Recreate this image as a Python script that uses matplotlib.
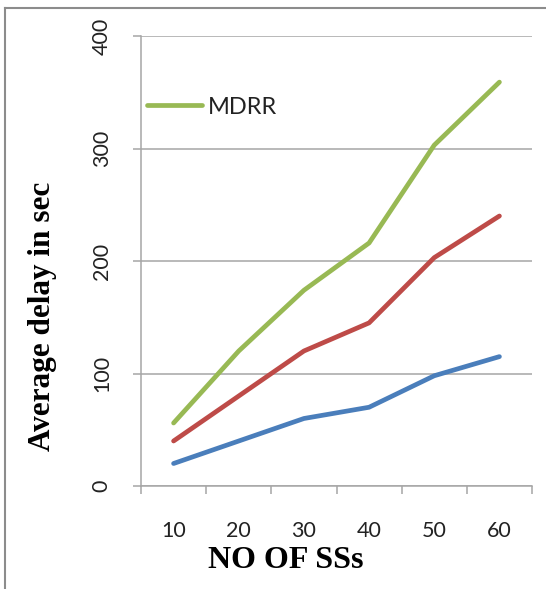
import matplotlib
matplotlib.use("Agg")
import matplotlib.pyplot as plt
from matplotlib.lines import Line2D
import numpy as np

# data
ss_counts = ["10", "20", "30", "40", "50", "60"]
series_blue = [20, 40, 60, 70, 98, 115]
series_red = [40, 80, 120, 145, 203, 240]
series_mdrr = [56, 120, 174, 216, 303, 359]
y_ticks = [0, 100, 200, 300, 400]

W, H = 546, 589
fig = plt.figure(figsize=(W / 100, H / 100), dpi=100)
ax = fig.add_axes([141 / W, 1 - 486 / H, (532 - 141) / W, (486 - 36) / H])

x = np.arange(len(ss_counts))
ax.plot(x, series_blue, color="#4a7ebb", lw=3.4, solid_capstyle="round", zorder=3)
ax.plot(x, series_red, color="#be4b48", lw=3.4, solid_capstyle="round", zorder=3)
ax.plot(x, series_mdrr, color="#98b954", lw=3.4, solid_capstyle="round", zorder=3,
        label="MDRR")

ax.set_xlim(-0.5, len(ss_counts) - 0.5)
ax.set_ylim(0, 400)

grid_c = "#a6a6a6"
ax.set_yticks(y_ticks)
ax.set_yticklabels([str(v) for v in y_ticks], rotation=90, va="center",
                   family="Lato", fontsize=15.5, color="#222222")
ax.yaxis.grid(True, color=grid_c, lw=1.1)
ax.set_axisbelow(True)

ax.set_xticks(x)
ax.set_xticklabels(ss_counts, family="Lato", fontsize=15.5, color="#222222")
ax.set_xticks(np.arange(-0.5, len(ss_counts)), minor=True)
ax.tick_params(axis="x", which="major", length=0, pad=25)
ax.tick_params(axis="x", which="minor", length=6, color=grid_c, width=1.1,
               direction="out")
ax.tick_params(axis="y", length=6, color=grid_c, width=1.1, pad=15)

for s in ["top", "right"]:
    ax.spines[s].set_visible(False)
for s in ["left", "bottom"]:
    ax.spines[s].set_color(grid_c)
    ax.spines[s].set_linewidth(1.1)

# axis titles placed where the reference has them
fig.text(286 / W, 1 - 561 / H, "NO OF SSs", family="Liberation Serif",
         fontweight="bold", fontsize=23, ha="center", va="center")
fig.text(43 / W, 1 - 316 / H, "Average delay in sec", family="Liberation Serif",
         fontweight="bold", fontsize=22.5, rotation=90, ha="center", va="center")

leg = ax.legend(loc="center left", bbox_to_anchor=(-0.009, 1 - (107 - 36) / 450),
                frameon=False, prop={"family": "Lato", "size": 17},
                handlelength=2.35, handletextpad=0.25, borderaxespad=0.0)
for t in leg.get_texts():
    t.set_color("#222222")

# chart-area border (only top and left visible)
fig.add_artist(Line2D([5 / W, 1.0], [1 - 8 / H, 1 - 8 / H], color="#8c8c8c",
                      lw=1.5, transform=fig.transFigure))
fig.add_artist(Line2D([5 / W, 5 / W], [0.0, 1 - 8 / H], color="#8c8c8c",
                      lw=1.5, transform=fig.transFigure))

fig.savefig("out.png", dpi=100, facecolor="white")
